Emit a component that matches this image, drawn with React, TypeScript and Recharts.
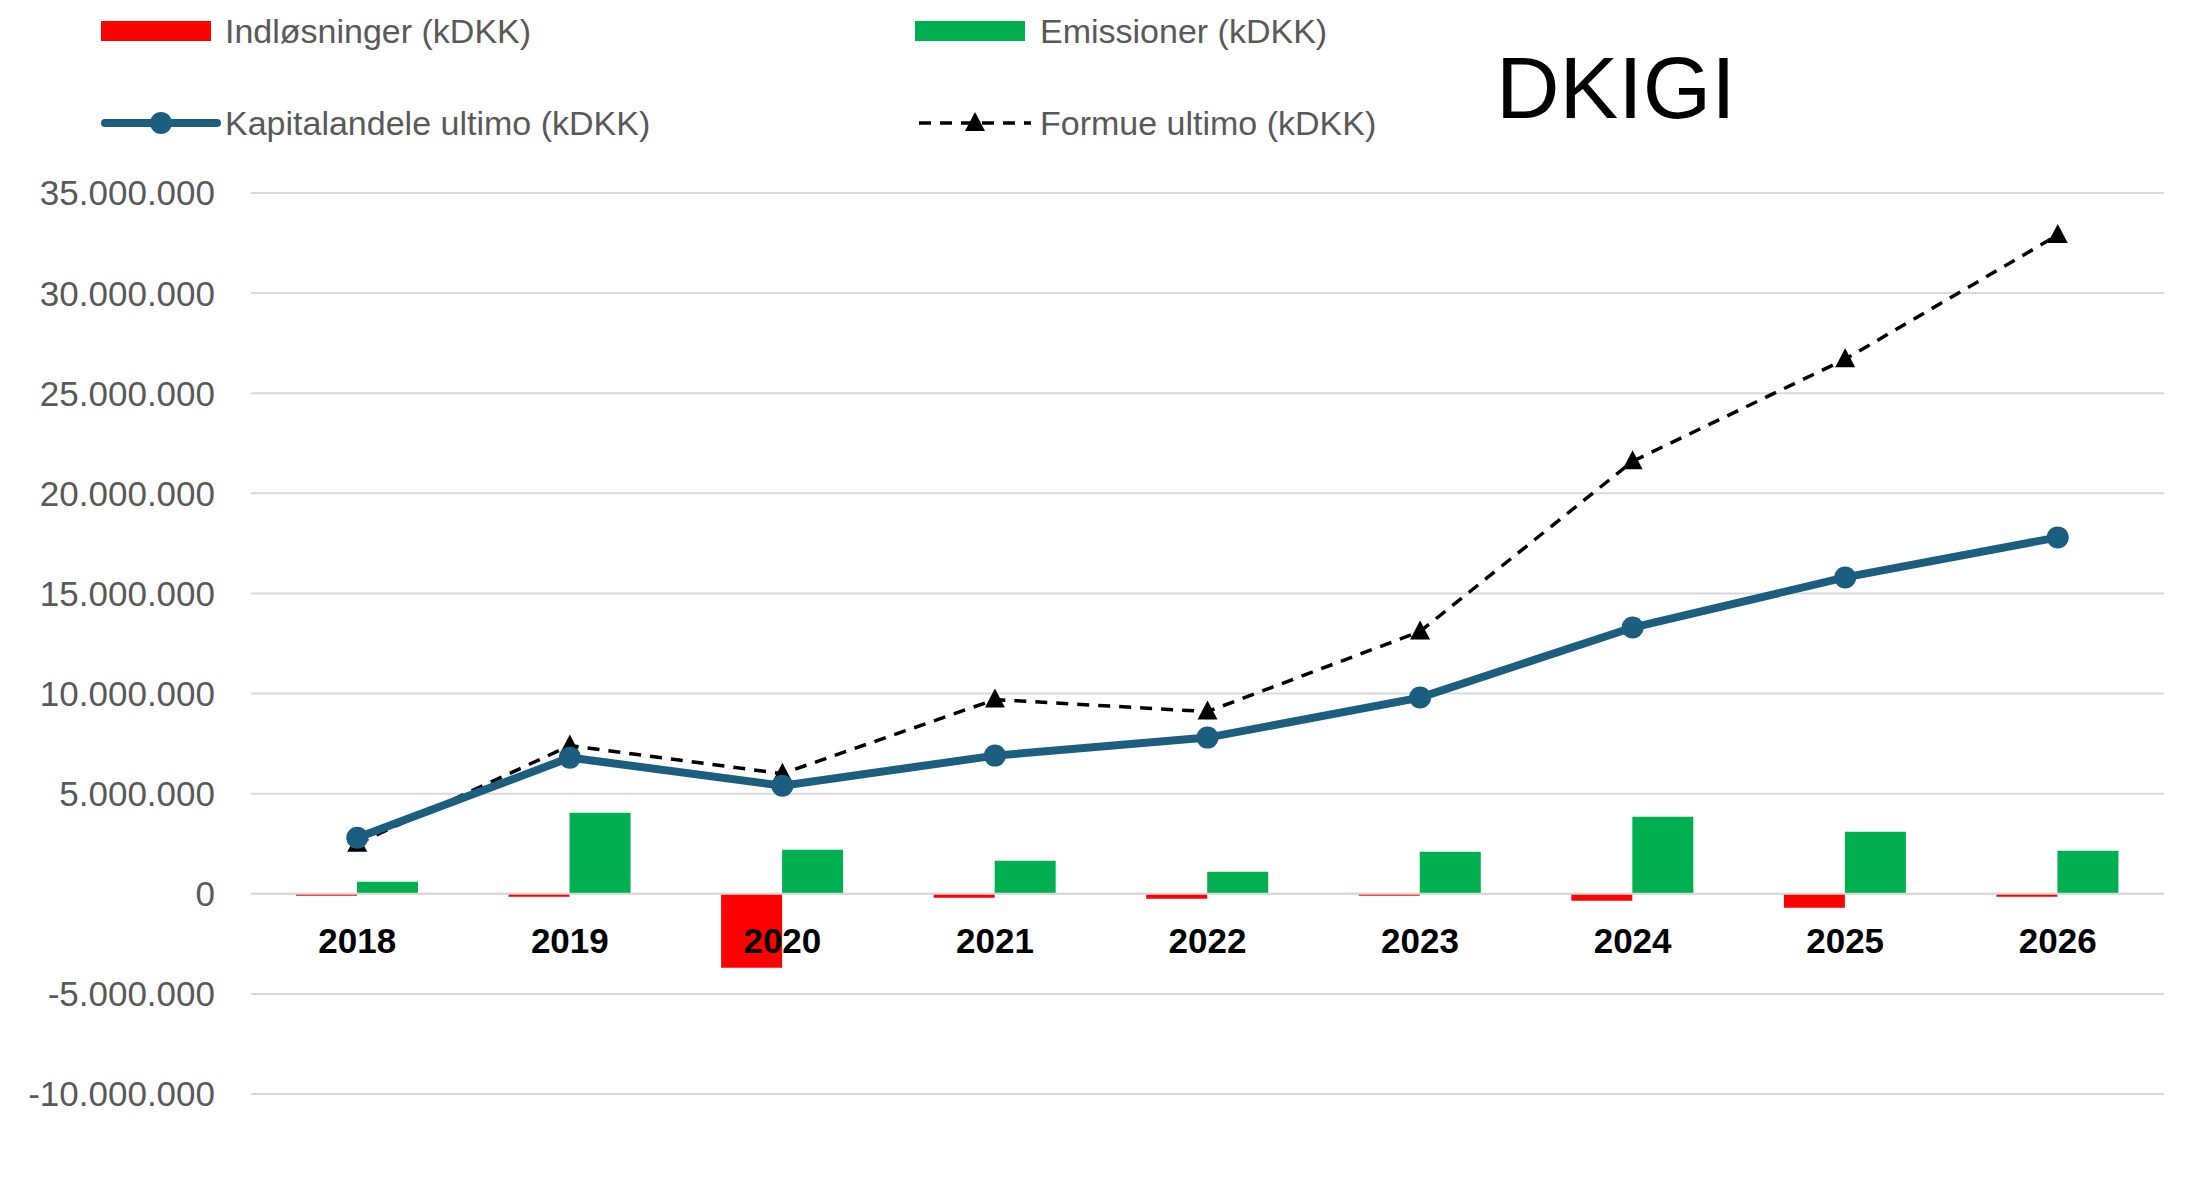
import React from 'react';
import { ComposedChart, Bar, Line, XAxis, YAxis, CartesianGrid, LabelList, ReferenceLine } from 'recharts';

const years = ['2018','2019','2020','2021','2022','2023','2024','2025','2026'];
const indloesninger = [-100000,-150000,-3700000,-200000,-250000,-100000,-350000,-700000,-150000];
const emissioner = [600000,4050000,2200000,1650000,1100000,2100000,3850000,3100000,2150000];
const kapital = [2800000,6800000,5400000,6900000,7800000,9800000,13300000,15800000,17800000];
const formue = [2500000,7400000,6000000,9700000,9100000,13100000,21600000,26700000,32900000];
const yTicks = [-10000000,-5000000,0,5000000,10000000,15000000,20000000,25000000,30000000,35000000];

const data = years.map((y, i) => ({ year: y, ind: indloesninger[i], emi: emissioner[i], kap: kapital[i], for: formue[i], zero: 0 }));
const fmt = (v: number) => (v < 0 ? '-' : '') + String(Math.abs(v)).replace(/\B(?=(\d{3})+(?!\d))/g, '.');
const FONT = '"Liberation Sans", Arial, sans-serif';

const Tri = (p: any) => {
  const { cx, cy } = p;
  if (cx == null) return null;
  return <path d={`M${cx},${cy - 11} L${cx + 10},${cy + 8} L${cx - 10},${cy + 8} Z`} fill="#000" />;
};

const YearLabel = (p: any) => (
  <text x={p.x} y={p.y + 59} textAnchor="middle" fontFamily={FONT} fontWeight="bold" fontSize={35} fill="#000">{years[p.index]}</text>
);

export default function App() {
  const leg = { position: 'absolute' as const, fontFamily: FONT, fontSize: 34, color: '#595959', lineHeight: '40px' };
  return (
    <div style={{ position: 'relative', width: 2180, height: 1160 }}>
      <div style={{ position: 'absolute', left: 93, top: 13, width: 110, height: 20, background: '#ff0000' }} />
      <div style={{ ...leg, left: 217, top: 3 }}>Indløsninger (kDKK)</div>
      <div style={{ position: 'absolute', left: 907, top: 13, width: 110, height: 20, background: '#00b050' }} />
      <div style={{ ...leg, left: 1032, top: 3 }}>Emissioner (kDKK)</div>
      <svg style={{ position: 'absolute', left: 93, top: 100 }} width={120} height={30}>
        <line x1={4} y1={15} x2={116} y2={15} stroke="#1b5e80" strokeWidth={8} strokeLinecap="round" />
        <circle cx={60} cy={15} r={11} fill="#1b5e80" />
      </svg>
      <div style={{ ...leg, left: 217, top: 95 }}>Kapitalandele ultimo (kDKK)</div>
      <svg style={{ position: 'absolute', left: 907, top: 100 }} width={120} height={30}>
        <line x1={4} y1={15} x2={116} y2={15} stroke="#000" strokeWidth={3.5} strokeDasharray="12 9" />
        <path d="M60,4 L70,23 L50,23 Z" fill="#000" />
      </svg>
      <div style={{ ...leg, left: 1032, top: 95 }}>Formue ultimo (kDKK)</div>
      <div style={{ position: 'absolute', left: 1488, top: 30, fontFamily: FONT, fontSize: 88, color: '#000', lineHeight: '100px' }}>DKIGI</div>
      <ComposedChart width={2180} height={1160} data={data} margin={{ top: 185, right: 24, bottom: 74, left: 13 }} barGap={0} style={{ position: 'absolute', left: 0, top: 0 }}>
        <CartesianGrid vertical={false} stroke="#d9d9d9" strokeWidth={2} />
        <XAxis dataKey="year" hide />
        <YAxis domain={[-10000000, 35000000]} ticks={yTicks} width={230} axisLine={false} tickLine={false} tickFormatter={fmt} tickMargin={30}
          tick={{ fontFamily: FONT, fontSize: 35, fill: '#595959' }} />
        <ReferenceLine y={0} stroke="#d9d9d9" strokeWidth={2} />
        <Bar dataKey="ind" fill="#ff0000" barSize={61} isAnimationActive={false} />
        <Bar dataKey="emi" fill="#00b050" barSize={61} isAnimationActive={false} />
        <Line dataKey="zero" stroke="none" dot={false} activeDot={false} isAnimationActive={false}>
          <LabelList dataKey="year" content={YearLabel} />
        </Line>
        <Line dataKey="for" stroke="#000" strokeWidth={3.5} strokeDasharray="12 9" dot={<Tri />} isAnimationActive={false} />
        <Line dataKey="kap" stroke="#1b5e80" strokeWidth={8} dot={{ r: 11, fill: '#1b5e80', stroke: '#1b5e80', strokeWidth: 0 }} isAnimationActive={false} />
      </ComposedChart>
    </div>
  );
}
